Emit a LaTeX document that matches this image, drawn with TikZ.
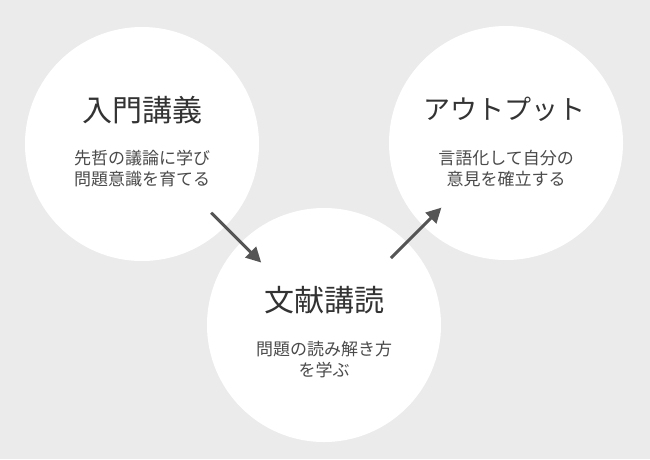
\documentclass[tikz,border=0pt]{standalone}
\usepackage{fontspec}
\newfontfamily\jp{Noto Sans CJK JP}
\usetikzlibrary{arrows.meta,calc}
\definecolor{bg}{HTML}{EBEBEB}
\definecolor{arrowgray}{HTML}{555555}
\definecolor{titlegray}{HTML}{333333}
\definecolor{subgray}{HTML}{4A4A4A}
\begin{document}
\begin{tikzpicture}[x=1pt,y=-1pt,
  bubble/.style={circle,fill=white,draw=none,minimum size=234pt,inner sep=0pt},
  title/.style={font=\jp\fontsize{30}{34}\selectfont,text=titlegray,inner sep=0pt},
  sub/.style={font=\jp\fontsize{17}{21}\selectfont,text=subgray,align=center,inner sep=0pt},
  flow/.style={draw=arrowgray,line width=3pt,-{Triangle[length=15pt,width=15pt]}}]
\fill[bg] (0,0) rectangle (650,459);
\useasboundingbox (0,0) rectangle (650,459);
\node[bubble] (c1) at (142,144) {};
\node[bubble] (c2) at (324,325) {};
\node[bubble] (c3) at (506,143) {};
\node[title] (t1) at (142,110) {入門講義};
\node[sub] (s1) at (142,168.5) {先哲の議論に学び\\問題意識を育てる};
\node[title] (t2) at (324,300) {文献講読};
\node[sub] (s2) at (324,360) {問題の読み解き方\\を学ぶ};
\node[title,font=\jp\fontsize{27}{32}\selectfont] (t3) at (504,109) {アウトプット};
\node[sub] (s3) at (506,168.5) {言語化して自分の\\意見を確立する};
\draw[flow] ($(c1)!0.38!(c2)$) -- ($(c1)!0.655!(c2)$);
\draw[flow] ($(c2)!0.368!(c3)$) -- ($(c2)!0.645!(c3)$);
\end{tikzpicture}
\end{document}
